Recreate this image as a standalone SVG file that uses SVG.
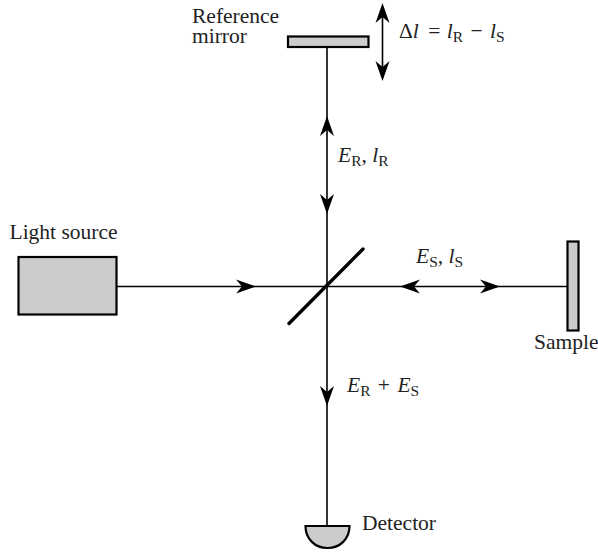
<svg xmlns="http://www.w3.org/2000/svg" width="598" height="554" viewBox="0 0 598 554">
<defs>
<path id="ah" d="M0 0 L-20 -7 L-14 0 L-20 7 Z" fill="#000" stroke="none"/>
</defs>
<style>
text{font-family:"Liberation Serif","Times New Roman",serif;font-size:21.500px;fill:#222}
.i{font-style:italic}
.s{font-size:15.500px}
.l{fill:none;stroke:#000;stroke-width:1.6}
.b{fill:#ccc;stroke:#000;stroke-width:2.2}
</style>
<rect width="598" height="554" fill="#fff"/>
<g id="connectors">
<path class="l" d="M327 47V526"/>
<path class="l" d="M117 286.500H567"/>
<use href="#ah" transform="translate(327 116) rotate(-90)"/>
<use href="#ah" transform="translate(327 214) rotate(90)"/>
<use href="#ah" transform="translate(327 406) rotate(90)"/>
<use href="#ah" transform="translate(256 286.500)"/>
<use href="#ah" transform="translate(400 286.500) rotate(180)"/>
<use href="#ah" transform="translate(500 286.500)"/>
<path class="l" d="M382.500 8V75"/>
<use href="#ah" transform="translate(382.500 3) rotate(-90)"/>
<use href="#ah" transform="translate(382.500 81) rotate(90)"/>
</g>
<g id="reference-mirror">
<rect class="b" x="288" y="36.500" width="80.500" height="10.500"/>
<text x="192" y="23">Reference</text>
<text x="192" y="43">mirror</text>
</g>
<g id="light-source">
<rect class="b" x="18.500" y="257" width="98" height="57.500"/>
<text x="9.500" y="239">Light source</text>
</g>
<g id="beam-splitter">
<path d="M289 323.500L363 249" fill="none" stroke="#000" stroke-width="3.400" stroke-linecap="round"/>
</g>
<g id="sample">
<rect class="b" x="567.500" y="241.500" width="11" height="89"/>
<text x="534" y="349">Sample</text>
</g>
<g id="detector">
<path class="b" d="M305.500 526H349.500C349.500 539 340 548 327.500 548C315 548 305.500 539 305.500 526Z"/>
<text x="362" y="530">Detector</text>
</g>
<g id="labels">
<text x="399" y="38">Δ<tspan class="i">l</tspan><tspan dx="4"> = </tspan><tspan class="i" dx="1">l</tspan><tspan class="s" dy="4">R</tspan><tspan dy="-4" dx="2"> − </tspan><tspan class="i" dx="2">l</tspan><tspan class="s" dy="4">S</tspan></text>
<text x="338" y="162"><tspan class="i">E</tspan><tspan class="s" dy="4">R</tspan><tspan dy="-4">, </tspan><tspan class="i">l</tspan><tspan class="s" dy="4">R</tspan></text>
<text x="416" y="263"><tspan class="i">E</tspan><tspan class="s" dy="4">S</tspan><tspan dy="-4">, </tspan><tspan class="i">l</tspan><tspan class="s" dy="4">S</tspan></text>
<text x="347" y="392"><tspan class="i">E</tspan><tspan class="s" dy="4">R</tspan><tspan dy="-4" dx="2"> + </tspan><tspan class="i" dx="2">E</tspan><tspan class="s" dy="4">S</tspan></text>
</g>
</svg>
